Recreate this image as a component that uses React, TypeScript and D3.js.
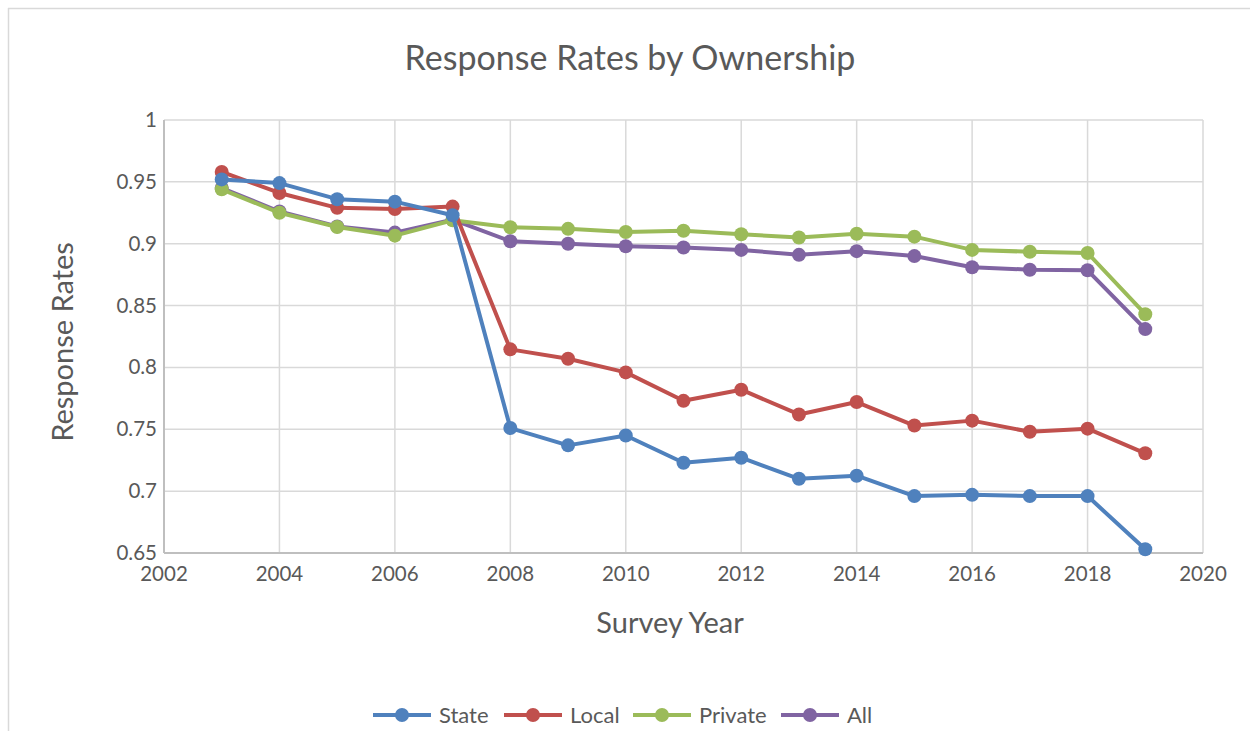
import { useRef, useEffect } from "react"
import * as d3 from "d3"

const years = [2003, 2004, 2005, 2006, 2007, 2008, 2009, 2010, 2011, 2012, 2013, 2014, 2015, 2016, 2017, 2018, 2019]

const stateRates = [0.952, 0.949, 0.936, 0.934, 0.923, 0.751, 0.737, 0.745, 0.723, 0.727, 0.71, 0.7125, 0.696, 0.697, 0.696, 0.696, 0.653]
const localRates = [0.958, 0.941, 0.929, 0.928, 0.93, 0.8146, 0.807, 0.796, 0.773, 0.782, 0.762, 0.772, 0.753, 0.757, 0.748, 0.7505, 0.7306]
const privateRates = [0.944, 0.925, 0.9135, 0.9065, 0.919, 0.9133, 0.912, 0.9095, 0.9105, 0.9076, 0.905, 0.908, 0.9057, 0.895, 0.8935, 0.8925, 0.843]
const allRates = [0.945, 0.926, 0.914, 0.909, 0.9195, 0.902, 0.9, 0.898, 0.897, 0.895, 0.891, 0.894, 0.89, 0.881, 0.879, 0.8785, 0.831]

const seriesNames = ["State", "Local", "Private", "All"]
const seriesColors = ["#4f81bd", "#c0504d", "#9bbb59", "#8064a2"]

const xTicks = [2002, 2004, 2006, 2008, 2010, 2012, 2014, 2016, 2018, 2020]
const yTicks = [0.65, 0.7, 0.75, 0.8, 0.85, 0.9, 0.95, 1]

export default function App() {
  const svgRef = useRef<SVGSVGElement>(null)

  function drawChart() {
    const width = 1250
    const height = 731
    const fontFamily = "Lato, 'Open Sans', sans-serif"
    const textColor = "#595959"

    document.body.style.margin = "0"
    document.body.style.overflow = "hidden"

    const svg = d3.select(svgRef.current).attr("width", width).attr("height", height)
    svg.selectAll("*").remove()

    // the chart sits 8px in from the page corner, like the original
    const chart = svg.append("g").attr("transform", "translate(8, 8)")

    // chart border (only top and left edges are in view)
    chart.append("line").attr("x1", 0).attr("x2", width).attr("y1", 0.5).attr("y2", 0.5)
      .attr("stroke", "#d9d9d9").attr("stroke-width", 1.5)
    chart.append("line").attr("x1", 0.5).attr("x2", 0.5).attr("y1", 0).attr("y2", height)
      .attr("stroke", "#d9d9d9").attr("stroke-width", 1.5)

    const x = d3.scaleLinear().domain([2002, 2020]).range([156, 1195])
    const y = d3.scaleLinear().domain([0.65, 1]).range([545, 112])

    // grid
    const grid = chart.append("g").attr("id", "grid")
    grid.selectAll("line.v")
      .data(xTicks)
      .enter()
      .append("line")
      .attr("x1", (d) => x(d))
      .attr("x2", (d) => x(d))
      .attr("y1", y(1))
      .attr("y2", y(0.65))
      .attr("stroke", "#d9d9d9")
      .attr("stroke-width", 1.5)
    grid.selectAll("line.h")
      .data(yTicks)
      .enter()
      .append("line")
      .attr("x1", x(2002))
      .attr("x2", x(2020))
      .attr("y1", (d) => y(d))
      .attr("y2", (d) => y(d))
      .attr("stroke", (d) => (d === 0.65 ? "#bfbfbf" : "#d9d9d9"))
      .attr("stroke-width", (d) => (d === 0.65 ? 2 : 1.5))
    grid.append("line")
      .attr("x1", x(2002)).attr("x2", x(2002))
      .attr("y1", y(1)).attr("y2", y(0.65))
      .attr("stroke", "#bfbfbf").attr("stroke-width", 2)

    // tick labels
    chart.append("g")
      .selectAll("text")
      .data(xTicks)
      .enter()
      .append("text")
      .text((d) => d)
      .attr("x", (d) => x(d))
      .attr("y", 573)
      .attr("text-anchor", "middle")
      .style("font-size", "20.5px")
      .style("font-family", fontFamily)
      .style("fill", textColor)

    chart.append("g")
      .selectAll("text")
      .data(yTicks)
      .enter()
      .append("text")
      .text((d) => String(d))
      .attr("x", 149)
      .attr("y", (d) => y(d) + 7)
      .attr("text-anchor", "end")
      .style("font-size", "20.5px")
      .style("font-family", fontFamily)
      .style("fill", textColor)

    // titles
    chart.append("text")
      .text("Response Rates by Ownership")
      .attr("x", 622)
      .attr("y", 62)
      .attr("text-anchor", "middle")
      .style("font-size", "34px")
      .style("font-family", fontFamily)
      .style("fill", textColor)

    chart.append("text")
      .text("Survey Year")
      .attr("x", 662)
      .attr("y", 625)
      .attr("text-anchor", "middle")
      .style("font-size", "29px")
      .style("font-family", fontFamily)
      .style("fill", textColor)

    chart.append("text")
      .text("Response Rates")
      .attr("transform", "translate(65, 334) rotate(-90)")
      .attr("text-anchor", "middle")
      .style("font-size", "29px")
      .style("font-family", fontFamily)
      .style("fill", textColor)

    // series, drawn last-first so State ends up on top
    const allSeries = [stateRates, localRates, privateRates, allRates]
    const line = d3.line<number>()
      .x((d, i) => x(years[i]))
      .y((d) => y(d))

    const order = [3, 2, 1, 0]
    order.forEach((k) => {
      const g = chart.append("g").attr("id", seriesNames[k])
      g.append("path")
        .attr("d", line(allSeries[k]))
        .attr("fill", "none")
        .attr("stroke", seriesColors[k])
        .attr("stroke-width", 4)
        .attr("stroke-linejoin", "round")
      g.selectAll("circle")
        .data(allSeries[k])
        .enter()
        .append("circle")
        .attr("cx", (d, i) => x(years[i]))
        .attr("cy", (d) => y(d))
        .attr("r", 7)
        .attr("fill", seriesColors[k])
    })

    // legend
    const legendX = [365, 496, 625, 773]
    const legend = chart.append("g").attr("id", "legend")
    const items = legend.selectAll("g")
      .data(seriesNames)
      .enter()
      .append("g")
      .attr("transform", (d, i) => `translate(${legendX[i]}, 707)`)
    items.append("line")
      .attr("x1", 0).attr("x2", 58)
      .attr("y1", 0).attr("y2", 0)
      .attr("stroke", (d, i) => seriesColors[i])
      .attr("stroke-width", 4)
    items.append("circle")
      .attr("cx", 29).attr("cy", 0).attr("r", 7)
      .attr("fill", (d, i) => seriesColors[i])
    items.append("text")
      .text((d) => d)
      .attr("x", 66)
      .attr("y", 7.5)
      .style("font-size", "22px")
      .style("font-family", fontFamily)
      .style("fill", textColor)
  }

  useEffect(() => {
    drawChart()
  }, [svgRef])

  return (
    <div>
      <svg ref={svgRef} style={{ display: "block" }}></svg>
    </div>
  )
}
